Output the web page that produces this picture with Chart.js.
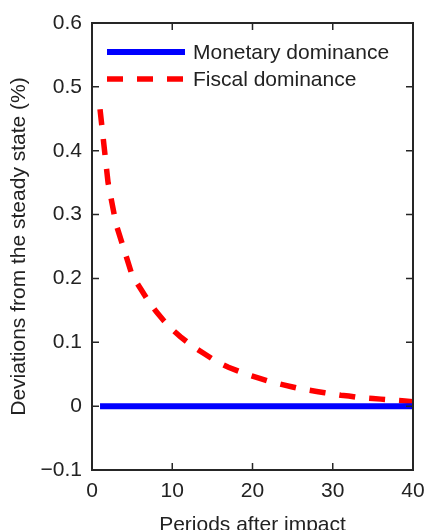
<!DOCTYPE html>
<html>
<head>
<meta charset="utf-8">
<script src="https://cdn.jsdelivr.net/npm/chart.js@4.4.1/dist/chart.umd.min.js"></script>
<style>
  html, body { margin: 0; padding: 0; background: #fff; overflow: hidden; }
  #wrap { width: 425px; height: 545px; }
</style>
</head>
<body>
<div id="wrap"><canvas id="irf" width="425" height="545"></canvas></div>
<script>
// Data
const periods = [1, 2, 3, 4, 5, 6, 7, 8, 9, 10, 11, 12, 13, 14, 15, 16, 17, 18, 19, 20,
                 21, 22, 23, 24, 25, 26, 27, 28, 29, 30, 31, 32, 33, 34, 35, 36, 37, 38, 39, 40];
const monetary = [0, 0, 0, 0, 0, 0, 0, 0, 0, 0, 0, 0, 0, 0, 0, 0, 0, 0, 0, 0,
                  0, 0, 0, 0, 0, 0, 0, 0, 0, 0, 0, 0, 0, 0, 0, 0, 0, 0, 0, 0];
const fiscal = [0.465, 0.35, 0.285, 0.245, 0.205, 0.185, 0.165, 0.148, 0.133, 0.12,
                0.109, 0.099, 0.09, 0.082, 0.074, 0.067, 0.061, 0.056, 0.051, 0.047,
                0.043, 0.039, 0.036, 0.033, 0.030, 0.027, 0.025, 0.023, 0.021, 0.019,
                0.017, 0.016, 0.014, 0.013, 0.012, 0.011, 0.010, 0.009, 0.008, 0.007];
const xTicks = [0, 10, 20, 30, 40];
const yTicks = [-0.1, 0, 0.1, 0.2, 0.3, 0.4, 0.5, 0.6];
const seriesNames = ['Monetary dominance', 'Fiscal dominance'];

const FONT = "'Liberation Sans', Arial, sans-serif";
const TEXT = '#222';

// MATLAB-style box with inward ticks and an inside legend
const matlabBox = {
    id: 'matlabBox',
    afterDraw(chart) {
        const { ctx, chartArea: a, scales } = chart;
        ctx.save();
        ctx.strokeStyle = '#262626';
        ctx.lineWidth = 2;
        ctx.strokeRect(a.left, a.top, a.right - a.left, a.bottom - a.top);
        const len = 7;
        ctx.lineWidth = 1.5;
        ctx.beginPath();
        xTicks.forEach(v => {
            const px = scales.x.getPixelForValue(v);
            ctx.moveTo(px, a.bottom); ctx.lineTo(px, a.bottom - len);
            ctx.moveTo(px, a.top); ctx.lineTo(px, a.top + len);
        });
        yTicks.forEach(v => {
            const py = scales.y.getPixelForValue(v);
            ctx.moveTo(a.left, py); ctx.lineTo(a.left + len, py);
            ctx.moveTo(a.right, py); ctx.lineTo(a.right - len, py);
        });
        ctx.stroke();

        // legend
        const rows = [52, 79];
        chart.data.datasets.forEach((ds, i) => {
            const y = rows[i];
            ctx.beginPath();
            ctx.strokeStyle = ds.borderColor;
            ctx.lineWidth = ds.borderWidth;
            ctx.setLineDash(ds.borderDash || []);
            ctx.moveTo(107, y); ctx.lineTo(185, y);
            ctx.stroke();
            ctx.setLineDash([]);
            ctx.fillStyle = TEXT;
            ctx.font = '21px ' + FONT;
            ctx.textBaseline = 'middle';
            ctx.textAlign = 'left';
            ctx.fillText(ds.label, 193, y + 1);
        });
        ctx.restore();
    }
};

new Chart(document.getElementById('irf'), {
    type: 'line',
    data: {
        datasets: [
            {
                label: seriesNames[0],
                data: periods.map((p, i) => ({ x: p, y: monetary[i] })),
                borderColor: '#0000ff',
                borderWidth: 6,
                pointRadius: 0,
                tension: 0
            },
            {
                label: seriesNames[1],
                data: periods.map((p, i) => ({ x: p, y: fiscal[i] })),
                borderColor: '#ff0000',
                borderWidth: 5.5,
                borderDash: [16, 14],
                pointRadius: 0,
                tension: 0
            }
        ]
    },
    options: {
        responsive: false,
        animation: false,
        layout: { padding: { top: 23, right: 12, left: 0, bottom: 0 } },
        plugins: { legend: { display: false }, tooltip: { enabled: false } },
        scales: {
            x: {
                type: 'linear',
                min: 0, max: 40,
                afterBuildTicks: s => { s.ticks = xTicks.map(v => ({ value: v })); },
                afterFit: s => { s.height = 75; s.paddingLeft = 0; s.paddingRight = 0; },
                grid: { display: false, drawTicks: false },
                border: { display: false },
                ticks: { padding: 9, color: TEXT, font: { family: FONT, size: 21 } },
                title: {
                    display: true, text: 'Periods after impact', color: TEXT,
                    font: { family: FONT, size: 21 }, padding: { top: 0, bottom: 7 }
                }
            },
            y: {
                min: -0.1, max: 0.6,
                afterBuildTicks: s => { s.ticks = yTicks.map(v => ({ value: v })); },
                afterFit: s => { s.width = 92; s.paddingTop = 0; s.paddingBottom = 0; },
                grid: { display: false, drawTicks: false },
                border: { display: false },
                ticks: {
                    padding: 10, color: TEXT, font: { family: FONT, size: 21 },
                    callback: v => (Math.abs(v) < 1e-9 ? '0' : (+v.toFixed(1)).toString().replace('-', '\u2212'))
                },
                title: {
                    display: true, text: 'Deviations from the steady state (%)', color: TEXT,
                    font: { family: FONT, size: 21 }, padding: { top: 7, bottom: 0 }
                }
            }
        }
    },
    plugins: [matlabBox]
});
</script>
</body>
</html>
